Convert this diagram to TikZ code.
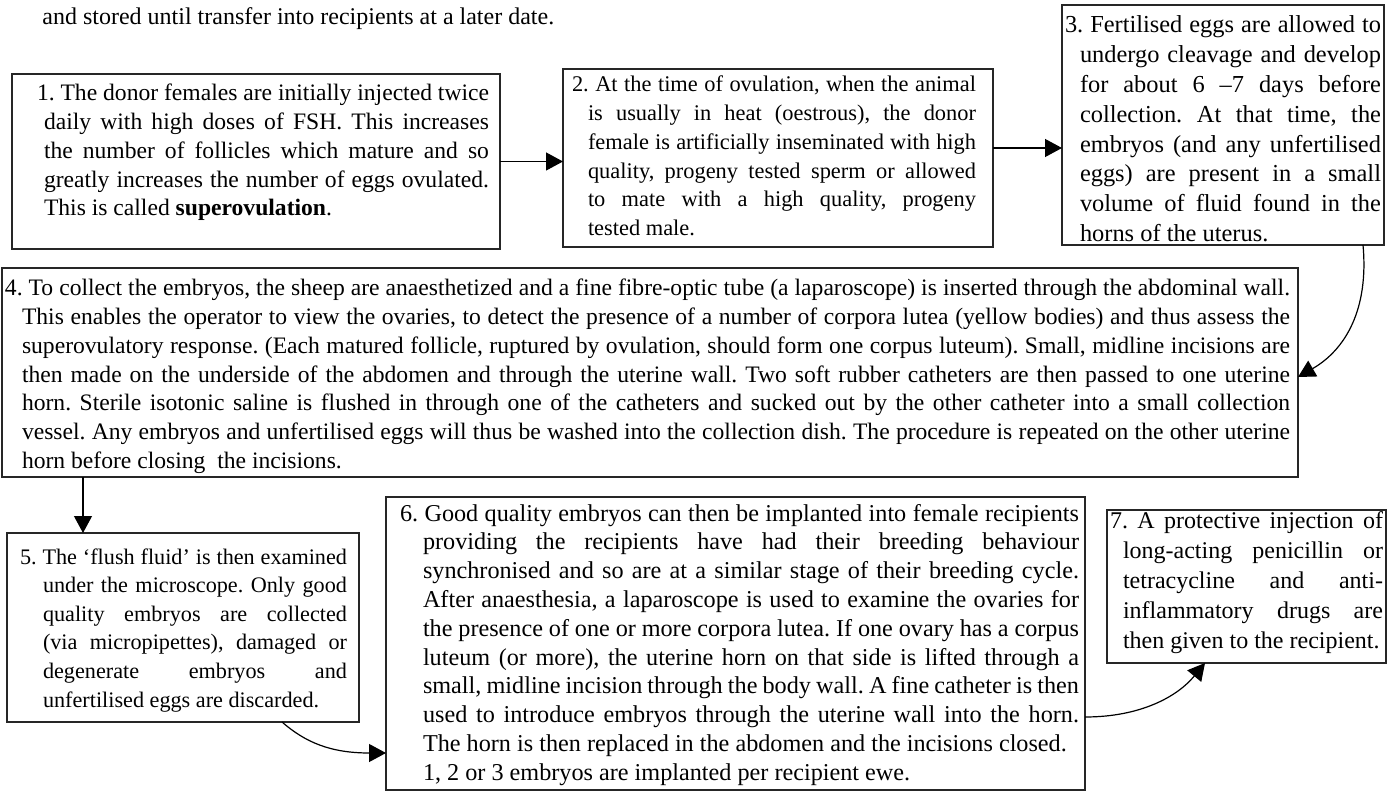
\documentclass[tikz,border=0pt]{standalone}
\usepackage{fontspec}
\setmainfont{Liberation Serif}
\usetikzlibrary{arrows.meta, positioning, calc}

% paragraph set-up for one stage box: left skip, hanging indent, text
\newcommand{\steptext}[3]{%
  \leftskip=#1\relax\hangindent=#2\relax\hangafter=1\relax
  \tolerance=10000\hyphenpenalty=10000\exhyphenpenalty=10000
  \frenchspacing\spaceskip=.25em plus .6em minus .12em\relax
  #3\par}

\begin{document}
\begin{tikzpicture}[
  x=0.5pt, y=-0.5pt,
  >={Triangle[length=8.5pt, width=9pt]},
  %--- one frame style for all stages ---
  stepbox/.style={
    draw=black!85, line width=0.6pt,
    anchor=north west, inner ysep=0pt, outer sep=0pt,
    align=justify
  },
  %--- connector style ---
  flow/.style={->, line width=0.6pt}
]

\useasboundingbox (0,0) rectangle (1387,791);

%------------------------------------------------------------------
%  Running text above the chart
%------------------------------------------------------------------
\node[anchor=base west, inner sep=0pt, font=\fontsize{12}{14}\selectfont]
  (intro) at (42,25) {and stored until transfer into recipients at a later date.};

%------------------------------------------------------------------
%  Top row: stages 1 - 3
%------------------------------------------------------------------
\node[stepbox, font=\fontsize{11.8}{14.35}\selectfont,
      text width=233pt, inner xsep=5.5pt, text height=13.5pt, text depth=74pt]
  (s1) at (12,74)
  {\steptext{7pt}{3.5pt}{1. The donor females are initially injected twice \linebreak
   daily with high doses of FSH. This increases \linebreak
   the number of follicles which mature and so \linebreak
   greatly increases the number of eggs ovulated. \linebreak
   This is called \textbf{superovulation}.}};

\node[stepbox, font=\fontsize{11.2}{14.35}\selectfont,
      text width=198pt, inner xsep=8.5pt, text height=11.5pt, text depth=77.5pt]
  (s2) at (563,69)
  {\steptext{-4pt}{8pt}{2. At the time of ovulation, when the animal \linebreak
   is usually in heat (oestrous), the donor \linebreak
   female is artificially inseminated with high \linebreak
   quality, progeny tested sperm or allowed \linebreak
   to mate with a high quality, progeny \linebreak
   tested male.}};

\node[stepbox, font=\fontsize{12.2}{14.9}\selectfont,
      text width=158pt, inner xsep=1.5pt, text height=14pt, text depth=106pt]
  (s3) at (1062,5)
  {\steptext{0pt}{7.5pt}{3. Fertilised eggs are allowed to \linebreak
   undergo cleavage and develop \linebreak
   for about 6 --7 days before \linebreak
   collection. At that time, the \linebreak
   embryos (and any unfertilised \linebreak
   eggs) are present in a small \linebreak
   volume of fluid found in the \linebreak
   horns of the uterus.}};

%------------------------------------------------------------------
%  Middle row: stage 4 (full width)
%------------------------------------------------------------------
\node[stepbox, font=\fontsize{11.8}{14.35}\selectfont,
      text width=640pt, inner xsep=4pt, text height=14pt, text depth=90.5pt]
  (s4) at (2,268)
  {\steptext{-2.5pt}{8.5pt}{4. To collect the embryos, the sheep are anaesthetized and a fine fibre-optic tube (a laparoscope) is inserted through the abdominal wall. \linebreak
   This enables the operator to view the ovaries, to detect the presence of a number of corpora lutea (yellow bodies) and thus assess the \linebreak
   superovulatory response. (Each matured follicle, ruptured by ovulation, should form one corpus luteum). Small, midline incisions are \linebreak
   then made on the underside of the abdomen and through the uterine wall. Two soft rubber catheters are then passed to one uterine \linebreak
   horn. Sterile isotonic saline is flushed in through one of the catheters and sucked out by the other catheter into a small collection \linebreak
   vessel. Any embryos and unfertilised eggs will thus be washed into the collection dish. The procedure is repeated on the other uterine \linebreak
   horn before closing\ \ the incisions.}};

%------------------------------------------------------------------
%  Bottom row: stages 5 - 7
%------------------------------------------------------------------
\node[stepbox, font=\fontsize{11.1}{14.3}\selectfont,
      text width=164pt, inner xsep=6pt, text height=15.5pt, text depth=79pt]
  (s5) at (7,533)
  {\steptext{0.5pt}{11.5pt}{5. The `flush fluid' is then examined \linebreak
   under the microscope. Only good \linebreak
   quality embryos are collected \linebreak
   (via micropipettes), damaged or \linebreak
   degenerate embryos and \linebreak
   unfertilised eggs are discarded.}};

\node[stepbox, font=\fontsize{12.1}{14.4}\selectfont,
      text width=343.5pt, inner xsep=3pt, text height=12pt, text depth=134.5pt]
  (s6) at (386,497)
  {\steptext{4pt}{11.5pt}{6. Good quality embryos can then be implanted into female recipients \linebreak
   providing the recipients have had their breeding behaviour \linebreak
   synchronised and so are at a similar stage of their breeding cycle. \linebreak
   After anaesthesia, a laparoscope is used to examine the ovaries for \linebreak
   the presence of one or more corpora lutea. If one ovary has a corpus \linebreak
   luteum (or more), the uterine horn on that side is lifted through a \linebreak
   small, midline incision through the body wall. A fine catheter is then \linebreak
   used to introduce embryos through the uterine wall into the horn. \linebreak
   The horn is then replaced in the abdomen and the incisions closed.\hfill\break
   1, 2 or 3 embryos are implanted per recipient ewe.}};

\node[stepbox, font=\fontsize{12}{15}\selectfont,
      text width=136.5pt, inner xsep=1.5pt, text height=9pt, text depth=67.5pt]
  (s7) at (1107,510)
  {\steptext{0pt}{6.5pt}{7. A protective injection of \linebreak
   long-acting penicillin or \linebreak
   tetracycline and anti-\linebreak
   inflammatory drugs are \linebreak
   then given to the recipient.}};

%------------------------------------------------------------------
%  Connectors
%------------------------------------------------------------------
\coordinate (y23) at (0,148);
\coordinate (x34) at (1363,0);
\coordinate (y34) at (0,377);
\coordinate (x45) at (83,0);
\coordinate (x56) at (282,0);
\coordinate (y56) at (0,753);
\coordinate (y67) at (0,717);
\coordinate (x67) at (1205,0);

\draw[flow] (s1.east) -- (s1.east -| s2.west);
\draw[flow] (s2.east |- y23) -- (s3.west |- y23);
\draw[flow] (s3.south -| x34) .. controls (1369,310) and (1345,350) .. (s4.east |- y34);
\draw[flow] (s4.south -| x45) -- (s5.north -| x45);
\draw[flow] (s5.south -| x56) .. controls (305,742) and (330,753) .. (s6.west |- y56);
\draw[flow] (s6.east |- y67) .. controls (1140,717) and (1177,697) .. (s7.south -| x67);

\end{tikzpicture}
\end{document}
